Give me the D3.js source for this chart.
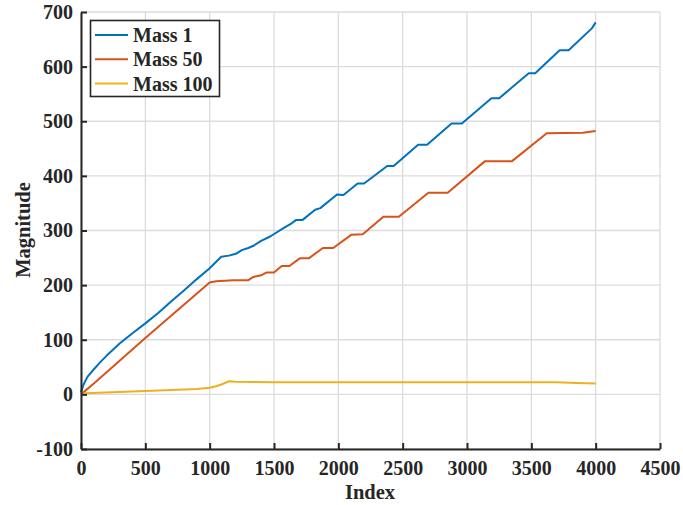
<!DOCTYPE html>
<html>
<head>
<meta charset="utf-8">
<script src="https://cdn.jsdelivr.net/npm/d3@7"></script>
<style>
  html, body { margin: 0; padding: 0; background: #fff; }
  svg { display: block; }
  text { font-family: "Liberation Serif", "Times New Roman", serif; font-weight: bold; fill: #262626; }
</style>
</head>
<body>
<svg id="chart" width="683" height="505"></svg>
<script>
// ---------- data ----------
const seriesNames = ["Mass 1", "Mass 50", "Mass 100"];

const mass1Index = [0, 20, 50, 100, 150, 200, 300, 400, 500, 600, 700, 800, 900, 1000, 1090, 1150, 1210, 1250, 1300, 1340, 1400, 1470, 1510, 1570, 1630, 1670, 1720, 1820, 1860, 1990, 2040, 2150, 2200, 2380, 2430, 2620, 2690, 2880, 2960, 3190, 3250, 3480, 3530, 3720, 3790, 3970, 4000];
const mass1Value = [4, 18, 32, 46, 59, 71, 93, 112, 130, 149, 170, 190, 211, 231, 252, 254, 258, 264, 268, 272, 281, 289, 295, 304, 312, 319, 319, 338, 341, 366, 365, 386, 386, 418, 418, 457, 457, 496, 496, 542, 542, 588, 588, 630, 630, 670, 681];

const mass50Index = [0, 100, 500, 1000, 1050, 1120, 1180, 1300, 1340, 1400, 1440, 1500, 1560, 1620, 1700, 1770, 1880, 1960, 2100, 2190, 2350, 2470, 2700, 2850, 3140, 3350, 3620, 3900, 4000];
const mass50Value = [0, 20, 103, 205, 207, 208, 209, 209, 215, 218, 223, 223, 235, 235, 249, 249, 268, 268, 292, 293, 325, 325, 369, 369, 427, 427, 478, 479, 482];

const mass100Index = [0, 30, 500, 900, 1000, 1050, 1100, 1150, 1200, 1500, 2000, 2500, 3000, 3500, 3700, 3850, 4000];
const mass100Value = [0, 2, 6, 10, 12, 15, 19, 24, 23, 22, 22, 22, 22, 22, 22, 21, 20];

const xTicks = [0, 500, 1000, 1500, 2000, 2500, 3000, 3500, 4000, 4500];
const yTicks = [-100, 0, 100, 200, 300, 400, 500, 600, 700];
const xLabel = "Index";
const yLabel = "Magnitude";

// ---------- layout ----------
const svg = d3.select("#chart");
const W = 683, H = 505;
const m = { left: 81, right: 23, top: 12, bottom: 56 };
const colors = ["#0072BD", "#D95319", "#EDB120"];

const x = d3.scaleLinear().domain([0, 4500]).range([m.left, W - m.right]);
const y = d3.scaleLinear().domain([-100, 700]).range([H - m.bottom, m.top]);

// grid
const grid = svg.append("g").attr("stroke", "#dcdcdc").attr("stroke-width", 1.3);
grid.selectAll("line.vx").data(xTicks).join("line")
  .attr("x1", d => x(d)).attr("x2", d => x(d))
  .attr("y1", y(-100)).attr("y2", y(700));
grid.selectAll("line.hy").data(yTicks).join("line")
  .attr("x1", x(0)).attr("x2", x(4500))
  .attr("y1", d => y(d)).attr("y2", d => y(d));

// series
const series = [
  { idx: mass1Index, val: mass1Value },
  { idx: mass50Index, val: mass50Value },
  { idx: mass100Index, val: mass100Value }
];
const line = d3.line().x(d => x(d[0])).y(d => y(d[1]));
series.forEach((s, i) => {
  const pts = s.idx.map((v, k) => [v, s.val[k]]);
  svg.append("path").datum(pts)
    .attr("fill", "none").attr("stroke", colors[i])
    .attr("stroke-width", 2).attr("stroke-linejoin", "round")
    .attr("d", line);
});

// axes
const fmt = d => String(d);
const xAxis = d3.axisBottom(x).tickValues(xTicks).tickFormat(fmt).tickSizeInner(-6).tickSizeOuter(0).tickPadding(12);
const yAxis = d3.axisLeft(y).tickValues(yTicks).tickFormat(fmt).tickSizeInner(-6).tickSizeOuter(0).tickPadding(8);

const gx = svg.append("g").attr("transform", `translate(0,${y(-100)})`).call(xAxis);
const gy = svg.append("g").attr("transform", `translate(${x(0)},0)`).call(yAxis);
[gx, gy].forEach(g => {
  g.select(".domain").attr("stroke", "#262626").attr("stroke-width", 2);
  g.selectAll(".tick line").attr("stroke", "#262626").attr("stroke-width", 2);
  g.selectAll(".tick text")
    .attr("font-family", "'Liberation Serif', 'Times New Roman', serif")
    .attr("font-weight", "bold").attr("font-size", 20).attr("fill", "#262626");
});

// axis labels
svg.append("text").attr("x", 370).attr("y", 499)
  .attr("text-anchor", "middle").attr("font-size", 20.5).text(xLabel);
svg.append("text").attr("transform", `translate(30,230) rotate(-90)`)
  .attr("text-anchor", "middle").attr("font-size", 20.5).text(yLabel);

// legend
const lg = svg.append("g");
lg.append("rect").attr("x", 90.5).attr("y", 20.5).attr("width", 129).attr("height", 76)
  .attr("fill", "#fff").attr("stroke", "#262626").attr("stroke-width", 1.6);
seriesNames.forEach((name, i) => {
  const yy = 35 + i * 24.3;
  lg.append("line").attr("x1", 95).attr("x2", 128).attr("y1", yy).attr("y2", yy)
    .attr("stroke", colors[i]).attr("stroke-width", 2);
  lg.append("text").attr("x", 133).attr("y", yy).attr("dy", "0.35em")
    .attr("font-size", 20).text(name);
});
</script>
</body>
</html>
